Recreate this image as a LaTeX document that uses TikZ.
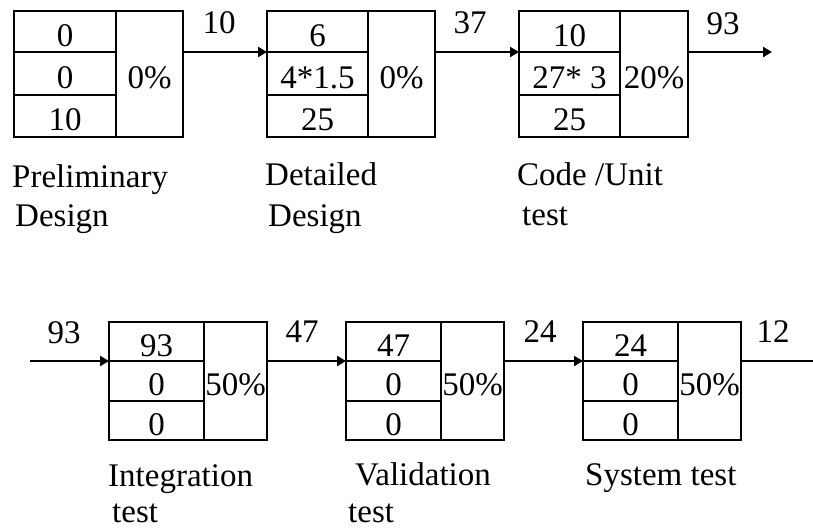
\documentclass[tikz,border=0pt]{standalone}
\usepackage{fontspec}
\setmainfont{Liberation Serif}
\usetikzlibrary{arrows.meta}
\begin{document}
\begin{tikzpicture}[x=1pt,y=-1pt,
  every node/.style={font=\fontsize{33}{39}\selectfont},
  cell/.style={draw=black, line width=1.2pt, rectangle, inner sep=0pt, outer sep=0pt,
    text height=29pt, text depth=0pt},
  flow/.style={line width=2.4pt, -{Triangle[length=9pt,width=10pt]}},
  lbl/.style={anchor=base, inner sep=0pt, text depth=0pt},
  captext/.style={anchor=base west, inner sep=0pt, text depth=0pt}]
\useasboundingbox (0,0) rectangle (813,528);
% ---------- top row ----------
% stage 1
\node[cell, minimum width=102pt, minimum height=41pt] (s1a) at (65,31.5) {0};
\node[cell, minimum width=102pt, minimum height=43pt] (s1b) at (65,73.5) {0};
\node[cell, minimum width=102pt, minimum height=42pt] (s1c) at (65,116) {10};
\node[cell, minimum width=67pt, minimum height=126pt] (s1p) at (149.5,74) {0\%};
% stage 2
\node[cell, minimum width=101pt, minimum height=41pt] (s2a) at (317.5,31.5) {6};
\node[cell, minimum width=101pt, minimum height=43pt] (s2b) at (317.5,73.5) {4*1.5};
\node[cell, minimum width=101pt, minimum height=42pt] (s2c) at (317.5,116) {25};
\node[cell, minimum width=67pt, minimum height=126pt] (s2p) at (401.5,74) {0\%};
% stage 3
\node[cell, minimum width=101pt, minimum height=41pt] (s3a) at (569.5,31.5) {10};
\node[cell, minimum width=101pt, minimum height=43pt] (s3b) at (569.5,73.5) {27* 3};
\node[cell, minimum width=101pt, minimum height=42pt] (s3c) at (569.5,116) {25};
\node[cell, minimum width=68pt, minimum height=126pt] (s3p) at (654,74) {20\%};
\coordinate (out1) at (772,52);
% ---------- bottom row ----------
% stage 4
\node[cell, minimum width=95pt, minimum height=39pt] (s4a) at (156.5,341.5) {93};
\node[cell, minimum width=95pt, minimum height=40pt] (s4b) at (156.5,381) {0};
\node[cell, minimum width=95pt, minimum height=39pt] (s4c) at (156.5,420.5) {0};
\node[cell, minimum width=63pt, minimum height=118pt] (s4p) at (235.5,381) {50\%};
% stage 5
\node[cell, minimum width=95pt, minimum height=39pt] (s5a) at (393.5,341.5) {47};
\node[cell, minimum width=95pt, minimum height=40pt] (s5b) at (393.5,381) {0};
\node[cell, minimum width=95pt, minimum height=39pt] (s5c) at (393.5,420.5) {0};
\node[cell, minimum width=63pt, minimum height=118pt] (s5p) at (472.5,381) {50\%};
% stage 6
\node[cell, minimum width=95pt, minimum height=39pt] (s6a) at (630.5,341.5) {24};
\node[cell, minimum width=95pt, minimum height=40pt] (s6b) at (630.5,381) {0};
\node[cell, minimum width=95pt, minimum height=39pt] (s6c) at (630.5,420.5) {0};
\node[cell, minimum width=63pt, minimum height=118pt] (s6p) at (709.5,381) {50\%};
\coordinate (in2) at (30,361);
\coordinate (out2) at (822,361);
% ---------- connectors ----------
\draw[flow] (s1p.east |- s2a.south west) -- (s2a.south west);
\draw[flow] (s2p.east |- s3a.south west) -- (s3a.south west);
\draw[flow] (s3p.east |- out1) -- (out1);
\draw[flow] (in2) -- (s4a.south west);
\draw[flow] (s4p.east |- s5a.south west) -- (s5a.south west);
\draw[flow] (s5p.east |- s6a.south west) -- (s6a.south west);
\draw[flow] (s6p.east |- out2) -- (out2);
% ---------- flow labels ----------
\node[lbl] (f1) at (219,33) {10};
\node[lbl] (f2) at (470,33) {37};
\node[lbl] (f3) at (723,34) {93};
\node[lbl] (f4) at (64,343) {93};
\node[lbl] (f5) at (302,342) {47};
\node[lbl] (f6) at (540,342) {24};
\node[lbl] (f7) at (773,342) {12};
% ---------- captions ----------
\node[captext] (c1a) at (12,187) {Preliminary};
\node[captext] (c1b) at (15,226) {Design};
\node[captext] (c2a) at (265,185) {Detailed};
\node[captext] (c2b) at (268,226) {Design};
\node[captext] (c3a) at (517,185) {Code /Unit};
\node[captext] (c3b) at (522,225) {test};
\node[captext] (c4a) at (108,486) {Integration};
\node[captext] (c4b) at (112,522) {test};
\node[captext] (c5a) at (355,485) {Validation};
\node[captext] (c5b) at (348,522) {test};
\node[captext] (c6a) at (585,485) {System test};
\end{tikzpicture}
\end{document}
